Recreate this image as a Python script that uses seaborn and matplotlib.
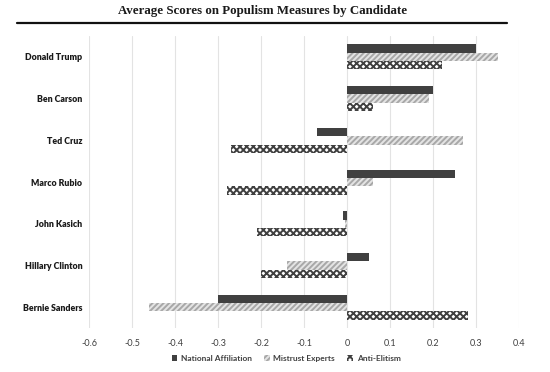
import matplotlib
matplotlib.use("Agg")
import matplotlib.pyplot as plt
import seaborn as sns
import pandas as pd
from matplotlib.lines import Line2D
from matplotlib.patches import Patch

candidates = ["Donald Trump", "Ben Carson", "Ted Cruz", "Marco Rubio",
              "John Kasich", "Hillary Clinton", "Bernie Sanders"]
national_affiliation = [0.30, 0.20, -0.07, 0.25, -0.01, 0.05, -0.30]
mistrust_experts = [0.35, 0.19, 0.27, 0.06, -0.005, -0.14, -0.46]
anti_elitism = [0.22, 0.06, -0.27, -0.28, -0.21, -0.20, 0.28]
series_names = ["National Affiliation", "Mistrust Experts", "Anti-Elitism"]
x_ticks = [-0.6, -0.5, -0.4, -0.3, -0.2, -0.1, 0, 0.1, 0.2, 0.3, 0.4]
x_tick_labels = ["-0.6", "-0.5", "-0.4", "-0.3", "-0.2", "-0.1", "0", "0.1", "0.2", "0.3", "0.4"]

rows = []
for name, vals in zip(series_names, [national_affiliation, mistrust_experts, anti_elitism]):
    for c, v in zip(candidates, vals):
        rows.append({"Candidate": c, "Measure": name, "Score": v})
df = pd.DataFrame(rows)

sns.set_style("white")
plt.rcParams["font.family"] = ["Lato", "DejaVu Sans"]
plt.rcParams["hatch.linewidth"] = 1.4

fig = plt.figure(figsize=(5.5, 3.72), dpi=100)
ax = fig.add_axes([0.162, 0.118, 0.782, 0.785])

palette = {"National Affiliation": "#404040", "Mistrust Experts": "#e4e4e4", "Anti-Elitism": "#ffffff"}
sns.barplot(data=df, y="Candidate", x="Score", hue="Measure", orient="h",
            order=candidates, hue_order=series_names, palette=palette,
            width=0.6, ax=ax, legend=False, saturation=1)

styles = [
    dict(hatch="", edgecolor="#404040"),
    dict(hatch="//////", edgecolor="#a8a8a8"),
    dict(hatch="xxxxx", edgecolor="#404040"),
]
for cont, st in zip(ax.containers, styles):
    for bar in cont:
        bar.set_hatch(st["hatch"])
        bar.set_edgecolor(st["edgecolor"])
        bar.set_linewidth(0)

ax.set_xlim(-0.6, 0.4)
ax.set_ylim(6.5, -0.5)
ax.set_xticks(x_ticks)
ax.set_xticklabels(x_tick_labels, fontsize=6.5, color="#404040")
ax.tick_params(axis="y", labelsize=6.3, pad=5, length=0)
ax.tick_params(axis="x", length=0, pad=8)
for lab in ax.get_yticklabels():
    lab.set_fontweight("heavy")
    lab.set_color("#1a1a1a")
ax.set_xlabel("")
ax.set_ylabel("")
for s in ax.spines.values():
    s.set_visible(False)
ax.grid(axis="x", color="#e3e3e3", linewidth=0.8)
ax.set_axisbelow(True)

fig.text(0.477, 0.97, "Average Scores on Populism Measures by Candidate",
         ha="center", va="center", fontsize=9.3, fontweight="bold",
         family=["Liberation Serif", "DejaVu Serif"], color="#1a1a1a")
fig.add_artist(Line2D([0.031, 0.922], [0.937, 0.937], color="#111111", linewidth=1.6))

handles = [
    Patch(facecolor="#404040", edgecolor="#404040", linewidth=0),
    Patch(facecolor="#e4e4e4", edgecolor="#a8a8a8", hatch="//////", linewidth=0),
    Patch(facecolor="#ffffff", edgecolor="#404040", hatch="xxxxx", linewidth=0),
]
leg = fig.legend(handles, series_names, loc="center", bbox_to_anchor=(0.52, 0.036),
                 ncol=3, frameon=False, fontsize=6, handlelength=0.7, handleheight=0.7,
                 handletextpad=0.4, columnspacing=1.5)
for t in leg.get_texts():
    t.set_color("#404040")
    t.set_fontweight("bold")

fig.savefig("out.png", dpi=100)
